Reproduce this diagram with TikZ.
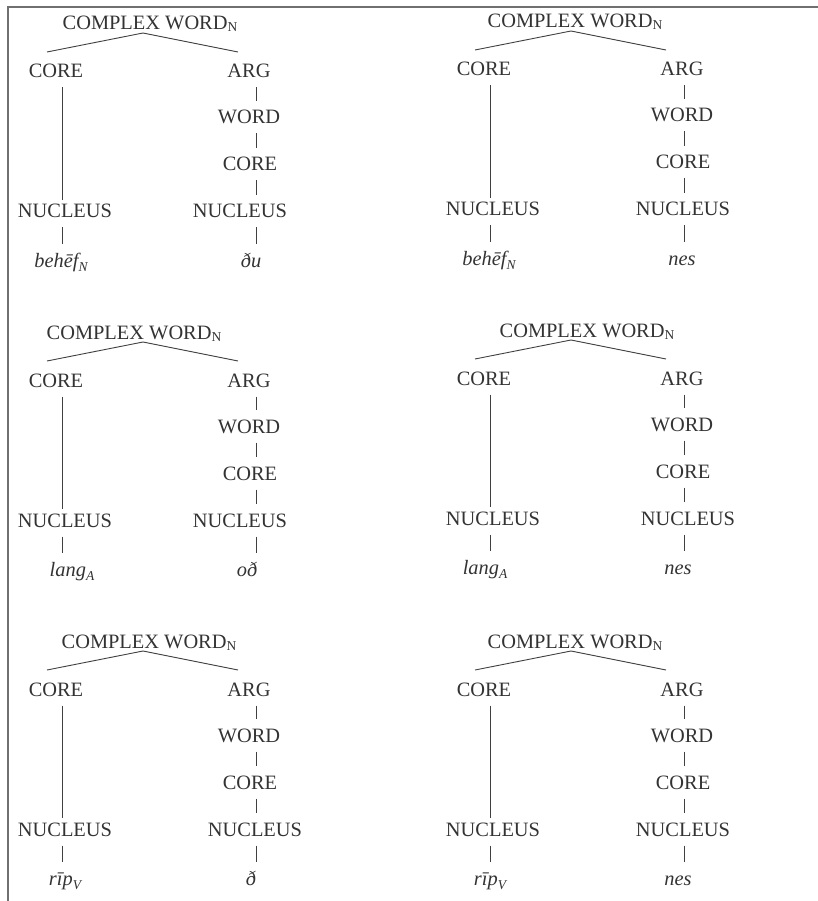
\documentclass[tikz,border=0pt]{standalone}
\usepackage{fontspec}
\setmainfont{Liberation Serif}
\definecolor{txtgray}{HTML}{333333}
\definecolor{linegray}{HTML}{404040}
\definecolor{framegray}{HTML}{707070}
% lowered small subscript after a label
\newcommand\lowsub[2]{\raisebox{-#1}{\fontsize{13.5}{14}\selectfont #2}}
\tikzset{
  lbl/.style={anchor=base, inner xsep=0pt, inner ysep=9.5pt, outer sep=0pt,
              text height=13.5pt, text depth=0pt, text=txtgray,
              font=\fontsize{20.4}{24}\selectfont},
  toplbl/.style={lbl, inner ysep=3pt},
  wrd/.style={lbl, font=\fontsize{20.4}{24}\selectfont\itshape},
  edge/.style={draw=linegray, line width=0.9pt},
  frameline/.style={draw=framegray, line width=2pt}
}
\begin{document}
\begin{tikzpicture}[x=1pt, y=-1pt]
\useasboundingbox (0,0) rectangle (818,901);
% page rule on the left and top
\draw[frameline] (8,901) -- (8,7.5) -- (818,7.5);
% one tree per entry: prefix/dx/dy/title x/left word/its x/right word/its x/right column x/right nucleus x
\foreach \p/\dx/\dy/\cwx/\lw/\lwx/\rw/\rwx/\rcx/\rnx in {
  a/0/0/150/{behēf\lowsub{4pt}{N}}/61/{ðu}/251/249/240,
  b/428/-2/147/{behēf\lowsub{4pt}{N}}/61/{nes}/254/254/255,
  c/0/309/134/{lang\lowsub{4pt}{A}}/72/{oð}/247/249/240,
  d/428/307/159/{lang\lowsub{4pt}{A}}/57/{nes}/250/254/260,
  e/0/618/149/{rīp\lowsub{4pt}{V}}/65/{ð}/251/249/255,
  f/428/618/147/{rīp\lowsub{4pt}{V}}/62/{nes}/250/254/255}{
  \node[toplbl] (\p cw) at (\dx+\cwx, \dy+30) {COMPLEX WORD\lowsub{2pt}{N}};
  \node[lbl] (\p core) at (\dx+56, \dy+78) {CORE};
  \node[lbl] (\p arg) at (\dx+\rcx, \dy+78) {ARG};
  \node[lbl] (\p word) at (\dx+\rcx, \dy+124) {WORD};
  \node[lbl] (\p corer) at (\dx+\rcx+1, \dy+171) {CORE};
  \node[lbl] (\p nucl) at (\dx+65, \dy+218) {NUCLEUS};
  \node[lbl] (\p nucr) at (\dx+\rnx, \dy+218) {NUCLEUS};
  \node[wrd] (\p lw) at (\dx+\lwx, \dy+267) {\lw};
  \node[wrd] (\p rw) at (\dx+\rwx, \dy+267) {\rw};
  % branch ends and the x of the two vertical stems
  \coordinate (\p bl) at (\dx+47, \dy+52);
  \coordinate (\p br) at (\dx+238, \dy+52);
  \coordinate (\p lx) at (\dx+62, \dy);
  \coordinate (\p rx) at (\dx+256, \dy);
  \draw[edge] (\p bl) -- ([xshift={(143-\cwx)*1pt}]\p cw.south) -- (\p br);
  \draw[edge, shorten >=-5pt] (\p core.south -| \p lx) -- (\p nucl.north -| \p lx);
  \draw[edge] (\p nucl.south -| \p lx) -- (\p lw.north -| \p lx);
  \draw[edge] (\p arg.south -| \p rx) -- (\p word.north -| \p rx);
  \draw[edge] (\p word.south -| \p rx) -- (\p corer.north -| \p rx);
  \draw[edge] (\p corer.south -| \p rx) -- (\p nucr.north -| \p rx);
  \draw[edge] (\p nucr.south -| \p rx) -- (\p rw.north -| \p rx);
}
\end{tikzpicture}
\end{document}
